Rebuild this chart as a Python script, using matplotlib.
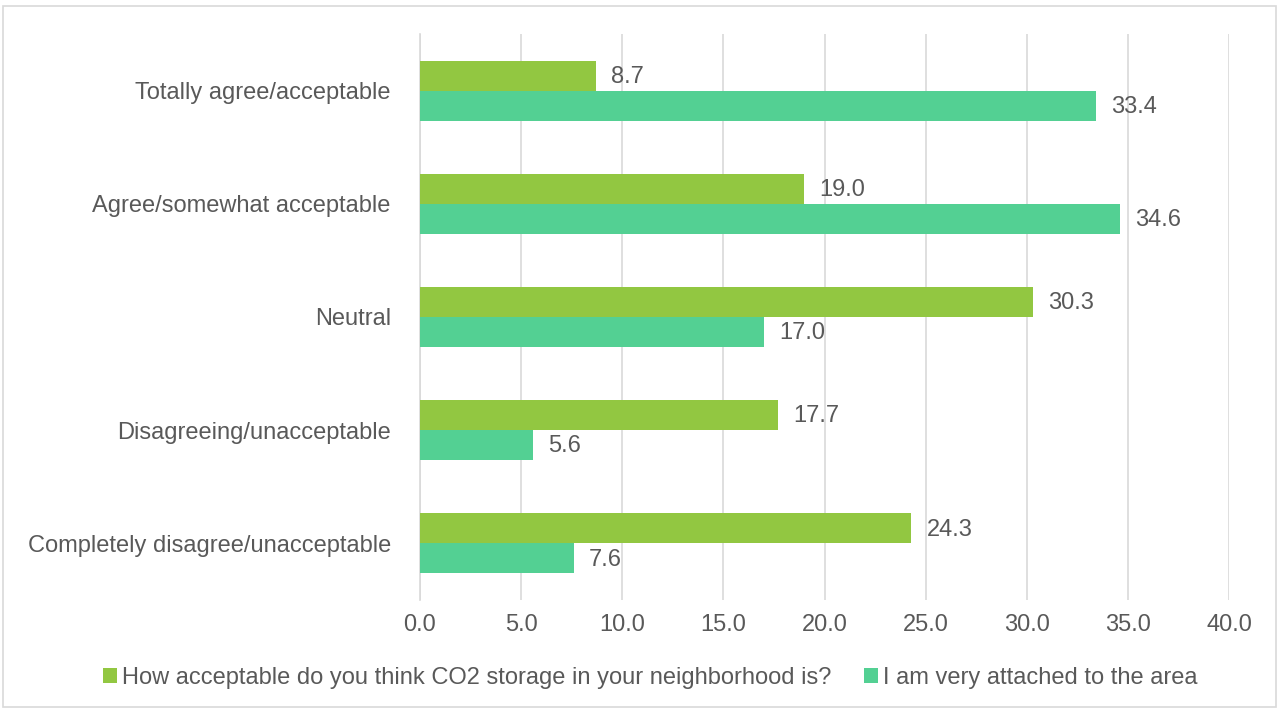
import matplotlib
matplotlib.use("Agg")
import matplotlib.pyplot as plt
from matplotlib.patches import Rectangle
import numpy as np

categories = ["Totally agree/acceptable", "Agree/somewhat acceptable", "Neutral",
              "Disagreeing/unacceptable", "Completely disagree/unacceptable"]
acceptable = [8.7, 19.0, 30.3, 17.7, 24.3]
attached = [33.4, 34.6, 17.0, 5.6, 7.6]
series_names = ["How acceptable do you think CO2 storage in your neighborhood is?",
                "I am very attached to the area"]
xticks = [0, 5, 10, 15, 20, 25, 30, 35, 40]

green = "#92C741"
teal = "#53D093"
txt = "#595959"
fs = 17

plt.rcParams['font.family'] = ['Liberation Sans', 'DejaVu Sans']
fig = plt.figure(figsize=(12.79, 7.10), dpi=100)
W, H = 1279, 710
ax = fig.add_axes([420 / W, 1 - 600 / H, (1229 - 420) / W, (600 - 34) / H])

y = np.arange(len(categories))
h = 30 / 113.2
ax.barh(y - h / 2, acceptable, height=h, color=green, label=series_names[0], zorder=3)
ax.barh(y + h / 2, attached, height=h, color=teal, label=series_names[1], zorder=3)
for yi, v in zip(y, acceptable):
    ax.text(v + 0.75, yi - h / 2 + 0.01, f"{v:.1f}", va="center", ha="left", fontsize=fs, color=txt)
for yi, v in zip(y, attached):
    ax.text(v + 0.75, yi + h / 2 + 0.01, f"{v:.1f}", va="center", ha="left", fontsize=fs, color=txt)

ax.set_ylim(len(categories) - 0.5, -0.5)
ax.set_xlim(0, 40)
ax.set_xticks(xticks)
ax.set_xticklabels([f"{t:.1f}" for t in xticks], fontsize=fs, color=txt)
ax.set_yticks(y)
ax.set_yticklabels(categories, fontsize=fs, color=txt)
ax.tick_params(axis="both", length=0)
ax.tick_params(axis="x", pad=10)
ax.tick_params(axis="y", pad=21)
ax.grid(axis="x", color="#D9D9D9", linewidth=1.2, zorder=0)
for s in ["top", "right", "bottom"]:
    ax.spines[s].set_visible(False)
ax.spines["left"].set_color("#D9D9D9")
ax.spines["left"].set_linewidth(1.2)

leg = fig.legend(loc="center", bbox_to_anchor=(650 / W, 1 - 678 / H), ncol=2, frameon=False,
                 fontsize=fs, handlelength=0.6, handleheight=0.6, handletextpad=0.2,
                 columnspacing=1.4, labelcolor=txt)

fig.patches.append(Rectangle((3 / W, 3 / H), (W - 6) / W, (H - 9) / H, transform=fig.transFigure,
                             fill=False, edgecolor="#D9D9D9", linewidth=1.2))
fig.savefig("out.png", dpi=100, facecolor="white")
